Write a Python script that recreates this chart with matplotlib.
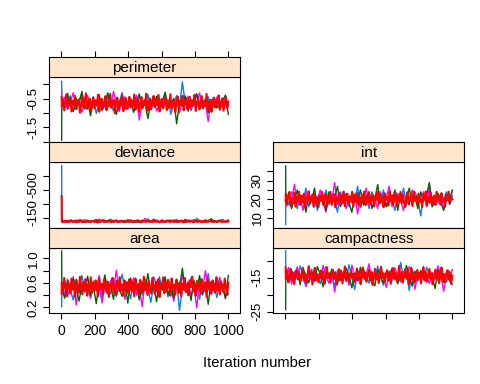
import numpy as np
import matplotlib.pyplot as plt
from matplotlib.transforms import ScaledTranslation

plt.rcParams['font.family'] = ['Liberation Sans', 'DejaVu Sans']
plt.rcParams['font.size'] = 10.6

# chain colours (lattice superpose.line)
chain_colors = ["#0080ff", "#ff00ff", "#006400", "#ff0000"]
chain_widths = [1.0, 1.0, 1.0, 1.5]
strip_color = "#ffe5cc"

perimeter_1 = [0.1, -0.5, -0.8, -0.62, -0.41, -0.95, -0.7, -0.55, -0.33, -0.88, -0.6, -0.74, -0.45, -1.02, -0.66, -0.52, -0.81, -0.38, -0.7, -0.93, -0.57, -0.64, -0.29, -0.85, -0.72, -0.5, -0.99, -0.61, -0.43, -0.77, -0.68, -0.36, -0.9, -0.58, -0.71, -0.47, -0.83, -0.65, -0.54, -1.05, -0.62, -0.4, -0.79, 0.08, -0.69, -0.56, -0.92, -0.63, -0.35, -0.8, -0.6, -0.74, -0.44, -0.97, -0.67, -0.52, -0.86, -0.59, -0.42, -0.75]
perimeter_2 = [-0.2, -0.7, -0.45, -0.88, -0.6, -0.3, -0.76, -0.55, -0.97, -0.64, -0.4, -0.82, -0.58, -0.7, -0.36, -0.9, -0.62, -0.5, -0.78, -0.25, -0.68, -0.95, -0.57, -0.44, -0.86, -0.6, -0.72, -0.39, -1.25, -0.66, -0.53, -0.81, -0.61, -0.47, -0.93, -0.7, -0.58, -0.35, -0.84, -0.63, -0.75, -0.49, -1.0, -0.6, -0.71, -0.42, -0.89, -0.56, -0.67, -0.3, -0.8, -0.62, -1.3, -0.54, -0.73, -0.45, -0.91, -0.65, -0.5, -0.78]
perimeter_3 = [-1.95, -0.55, -0.8, -0.32, -0.7, -0.95, -0.5, -0.68, -0.25, -0.84, -0.61, -1.1, -0.58, -0.73, -0.4, -0.92, -0.66, -0.3, -0.79, -0.56, -1.05, -0.63, -0.45, -0.87, -0.7, -0.52, -0.96, -0.6, -0.34, -0.82, -0.67, -1.2, -0.57, -0.74, -0.43, -0.9, -0.62, -0.28, -0.85, -0.69, -0.5, -1.38, -0.64, -0.76, -0.41, -0.94, -0.6, -0.72, -0.33, -0.88, -0.65, -0.53, -1.0, -0.61, -0.47, -0.83, -0.7, -0.56, -0.38, -1.05]
perimeter_4 = [-0.45, -0.78, -0.52, -0.91, -0.6, -0.35, -0.83, -0.66, -0.48, -0.95, -0.57, -0.73, -0.41, -0.87, -0.62, -0.55, -0.99, -0.69, -0.43, -0.8,
               -0.59, -0.32, -0.86, -0.64, -0.5, -0.92, -0.71, -0.46, -0.84, -0.56, -0.75, -0.37, -0.96, -0.63, -0.51, -0.85, -0.68, -0.42, -0.9, -0.61,
               -0.77, -0.34, -0.82, -0.65, -0.54, -1.01, -0.67, -0.47, -0.88, -0.6, -0.74, -0.39, -0.94, -0.62, -0.49, -0.86, -0.7, -0.44, -0.81, -0.58,
               -0.76, -0.36, -0.89, -0.63, -0.53, -0.97, -0.66, -0.45, -0.83, -0.59, -0.72, -0.33, -0.92, -0.64, -0.5, -0.87, -0.69, -0.41, -0.8, -0.57,
               -0.74, -0.38, -0.95, -0.61, -0.52, -0.84, -0.68, -0.46, -0.9, -0.6, -0.78, -0.35, -0.85, -0.65, -0.55, -0.98, -0.67, -0.43, -0.82, -0.58,
               -0.73, -0.4, -0.91, -0.62, -0.48, -0.86, -0.71, -0.44, -0.79, -0.56, -0.75, -0.37, -0.93, -0.64, -0.51, -0.88, -0.66, -0.42, -0.84, -0.6,
               -0.77, -0.34, -0.9, -0.63, -0.54, -0.96, -0.69, -0.47, -0.81, -0.59, -0.72, -0.39, -0.87, -0.65, -0.5, -0.92, -0.68, -0.45, -0.83, -0.61]

deviance_1 = [-808, -95, -110, -88, -120, -102, -92, -115, -98, -125, -90, -105, -112, -86, -100, -118, -94, -108, -130, -96, -104, -89, -116, -101, -93, -122, -99, -87, -110, -97, -106, -135, -91, -103, -114, -95, -100, -88, -119, -107, -92, -126, -98, -111, -90, -104, -117, -96, -140, -101, -93, -109, -99, -121, -94, -105, -113, -128, -97, -102]
deviance_2 = [-150, -100, -90, -113, -97, -106, -121, -92, -104, -88, -116, -99, -109, -95, -132, -101, -91, -110, -98, -118, -93, -107, -100, -87, -123, -96, -105, -114, -90, -102, -138, -98, -108, -94, -119, -100, -89, -112, -97, -106, -120, -93, -101, -115, -92, -108, -99, -127, -95, -103, -111, -90, -118, -98, -105, -93, -114, -100, -96, -107]
deviance_3 = [-200, -98, -107, -91, -115, -100, -94, -120, -103, -89, -110, -97, -105, -125, -93, -101, -117, -95, -108, -90, -113, -99, -104, -88, -121, -96, -106, -102, -92, -116, -98, -109, -94, -130, -100, -91, -112, -97, -105, -119, -93, -103, -110, -95, -128, -99, -107, -90, -114, -101, -94, -122, -98, -136, -104, -92, -111, -100, -96, -118]
deviance_4 = [-423, -100, -93, -108, -97, -112, -90, -104, -99, -115, -94, -106, -101, -89, -110, -96, -103, -118, -92, -107,
              -100, -95, -113, -98, -105, -91, -109, -102, -94, -116, -99, -88, -111, -97, -104, -120, -93, -106, -100, -95,
              -114, -101, -90, -108, -98, -103, -117, -96, -105, -92, -110, -99, -94, -112, -100, -97, -107, -93, -115, -101,
              -91, -109, -96, -104, -119, -95, -102, -89, -111, -98, -106, -93, -114, -100, -97, -108, -92, -116, -103, -95,
              -110, -99, -90, -105, -118, -96, -101, -94, -112, -98, -107, -91, -109, -102, -95, -115, -100, -93, -106, -97,
              -113, -99, -89, -108, -103, -96, -117, -94, -105, -100, -92, -111, -98, -104, -95, -114, -101, -90, -107, -97,
              -110, -94, -103, -99, -116, -96, -106, -92, -109, -100, -95, -113, -98, -104, -91, -108, -102, -96, -112, -99]

area_1 = [0.21, 0.55, 0.4, 0.66, 0.48, 0.32, 0.6, 0.5, 0.72, 0.44, 0.58, 0.36, 0.63, 0.47, 0.54, 0.3, 0.69, 0.52, 0.42, 0.61, 0.38, 0.56, 0.74, 0.46, 0.53, 0.34, 0.65, 0.49, 0.59, 0.4, 0.67, 0.51, 0.28, 0.57, 0.45, 0.7, 0.5, 0.62, 0.37, 0.55, 0.43, 0.64, 0.15, 0.52, 0.6, 0.39, 0.68, 0.48, 0.57, 0.33, 0.63, 0.5, 0.75, 0.44, 0.58, 0.36, 0.66, 0.49, 0.55, 0.41]
area_2 = [0.6, 0.45, 0.62, 0.38, 0.53, 0.7, 0.24, 0.57, 0.44, 0.66, 0.5, 0.35, 0.6, 0.48, 0.72, 0.27, 0.55, 0.42, 0.64, 0.5, 0.8, 0.46, 0.58, 0.33, 0.61, 0.49, 0.68, 0.4, 0.54, 0.21, 0.63, 0.51, 0.45, 0.7, 0.56, 0.37, 0.6, 0.47, 0.66, 0.52, 0.3, 0.59, 0.43, 0.73, 0.5, 0.62, 0.39, 0.55, 0.19, 0.65, 0.48, 0.8, 0.53, 0.41, 0.6, 0.46, 0.69, 0.5, 0.36, 0.57]
area_3 = [1.12, 0.5, 0.35, 0.6, 0.44, 0.67, 0.52, 0.3, 0.58, 0.47, 0.71, 0.4, 0.55, 0.26, 0.62, 0.49, 0.73, 0.43, 0.56, 0.33, 0.64, 0.5, 0.38, 0.6, 0.27, 0.68, 0.46, 0.54, 0.32, 0.61, 0.5, 0.75, 0.42, 0.57, 0.29, 0.63, 0.48, 0.7, 0.41, 0.55, 0.35, 0.66, 0.52, 0.84, 0.45, 0.59, 0.31, 0.64, 0.49, 0.72, 0.4, 0.56, 0.25, 0.62, 0.47, 0.69, 0.43, 0.58, 0.34, 0.72]
area_4 = [0.42, 0.6, 0.46, 0.68, 0.51, 0.38, 0.63, 0.54, 0.43, 0.67, 0.49, 0.58, 0.37, 0.65, 0.52, 0.44, 0.7, 0.56, 0.41, 0.61,
          0.48, 0.66, 0.39, 0.57, 0.5, 0.69, 0.44, 0.6, 0.47, 0.64, 0.53, 0.38, 0.67, 0.5, 0.58, 0.42, 0.65, 0.55, 0.45, 0.62,
          0.37, 0.59, 0.51, 0.68, 0.44, 0.56, 0.4, 0.63, 0.52, 0.69, 0.47, 0.57, 0.39, 0.64, 0.5, 0.61, 0.43, 0.66, 0.53, 0.46,
          0.6, 0.38, 0.67, 0.49, 0.58, 0.41, 0.65, 0.54, 0.45, 0.7, 0.48, 0.59, 0.4, 0.63, 0.51, 0.44, 0.68, 0.55, 0.42, 0.62,
          0.47, 0.66, 0.37, 0.58, 0.52, 0.69, 0.43, 0.6, 0.46, 0.64, 0.54, 0.39, 0.67, 0.5, 0.57, 0.41, 0.65, 0.56, 0.44, 0.61,
          0.38, 0.59, 0.49, 0.68, 0.45, 0.57, 0.4, 0.64, 0.53, 0.7, 0.46, 0.56, 0.39, 0.63, 0.51, 0.6, 0.42, 0.66, 0.52, 0.47,
          0.61, 0.37, 0.66, 0.5, 0.59, 0.43, 0.64, 0.55, 0.44, 0.69, 0.48, 0.58, 0.41, 0.62, 0.52, 0.45, 0.67, 0.54, 0.4, 0.6]

int_1 = [6.4, 21, 17, 24, 19, 15, 22, 18, 26, 16, 20, 23, 14, 21, 19, 25, 17, 22, 20, 13, 24, 18, 21, 16, 23, 19, 27, 17, 20, 22, 15, 24, 19, 21, 18, 25, 16, 22, 20, 14, 23, 19, 26, 17, 21, 18, 24, 20, 11, 22, 19, 25, 16, 21, 23, 18, 20, 24, 17, 22]
int_2 = [20, 16, 23, 19, 28, 17, 21, 14, 24, 19, 22, 16, 20, 25, 18, 13, 22, 19, 29, 17, 21, 24, 15, 20, 18, 23, 12, 21, 19, 26, 17, 22, 20, 15, 24, 18, 21, 27, 16, 20, 23, 19, 14, 22, 18, 25, 20, 17, 21, 24, 16, 28, 19, 22, 18, 23, 15, 21, 20, 24]
int_3 = [38, 18, 22, 15, 20, 25, 17, 21, 13, 23, 19, 26, 16, 20, 22, 14, 24, 18, 21, 27, 16, 20, 23, 18, 13, 22, 19, 25, 17, 21, 24, 15, 20, 28, 18, 22, 16, 21, 19, 25, 14, 23, 18, 20, 26, 17, 21, 15, 24, 19, 22, 29, 16, 20, 23, 18, 14, 21, 19, 25]
int_4 = [19, 23, 17, 22, 24, 16.5, 20.5, 18, 23.5, 16, 21.5, 19, 24, 17, 22, 18.5, 23, 15.5, 21, 19.5,
         24.3, 17.5, 20, 22.5, 16, 23, 18, 21, 15.8, 22, 19, 24, 17, 20.5, 23, 16.5, 21.5, 18.5, 24, 17,
         20, 22.8, 15.6, 21, 19, 23.5, 17.2, 22, 18, 24.2, 16.2, 20.5, 23, 17.8, 21.5, 19.2, 24, 16, 22.2, 18.6,
         23.4, 17, 20.8, 15.9, 22.6, 19.4, 24.1, 16.8, 21.2, 18.2, 23.8, 17.4, 20.2, 22.4, 16.1, 21.8, 19.6, 24, 17.6, 22.9,
         18.4, 20.6, 15.7, 23.2, 19.8, 21.4, 16.6, 24.2, 18.8, 22.1, 17.1, 20.3, 23.6, 16.4, 21.7, 19.1, 24, 17.9, 22.7, 18.1,
         15.8, 21.1, 23.9, 17.3, 20.7, 22.3, 16.3, 24.1, 19.3, 21.6, 17.7, 23.1, 18.7, 20.1, 15.9, 22.5, 19.9, 24.2, 16.7, 21.3,
         18.3, 23.7, 17.5, 20.9, 22, 16.9, 24, 19.7, 21.9, 17.2, 23.3, 18.9, 20.4, 16, 22.8, 19.5, 24.1, 17.8, 21, 20]

campactness_1 = [-7.1, -14, -12, -16.5, -13.2, -15.4, -11.5, -14.8, -17.5, -13, -15.8, -12.3, -14.5, -16.8, -13.6, -11.8, -15.2, -14, -17.8, -12.8, -15, -13.4, -16.2, -11.2, -14.6, -18.5, -13.1, -15.6, -12.5, -14.2, -16.6, -13.8, -15.3, -11.6, -14.9, -17.2, -13.3, -15.7, -12.1, -14.4, -16.4, -10.5, -15.1, -13.7, -18.8, -12.6, -14.7, -16, -13.2, -15.5, -11.9, -14.3, -17, -13.5, -15.9, -12.4, -14.8, -16.3, -13, -15.2]
campactness_2 = [-13, -15.5, -12.2, -16.9, -14.1, -11.8, -15.8, -13.3, -17.6, -14.6, -12.5, -16.2, -13.9, -15.1, -11.4, -14.8, -16.6, -13.1, -19.2, -14.3, -12.7, -15.6, -13.6, -17.3, -11.3, -14.9, -16, -12.9, -15.3, -14, -10.9, -16.8, -13.4, -15, -12.4, -14.7, -17.9, -13.8, -15.7, -12.1, -14.5, -16.3, -13.2, -15.2, -11.7, -14.2, -18.4, -13.7, -15.9, -12.8, -14.6, -16.7, -13.5, -15.4, -11.5, -14.4, -19, -13.9, -15.6, -12.6]
campactness_3 = [-24.4, -14.5, -16.3, -12.8, -15, -13.5, -17.1, -12, -14.8, -16.5, -13.3, -15.6, -11.7, -14.2, -17.7, -13.6, -15.2, -12.5, -14.9, -16.9, -13, -15.5, -12.2, -14.4, -18, -13.7, -15.8, -11.9, -14.6, -16.1, -13.2, -15.3, -17.4, -12.7, -14.7, -16.6, -13.4, -15.1, -12.3, -14, -16.8, -13.8, -15.4, -11.4, -14.3, -17.5, -13.1, -15.7, -12.9, -14.5, -16.2, -13.6, -15, -18.2, -12.6, -14.8, -16.4, -13.3, -15.9, -17]
campactness_4 = [-12, -15.2, -13.1, -16.4, -14, -12.4, -15.7, -13.6, -16.9, -14.4, -12.8, -15.5, -13.3, -16.1, -14.7, -12.2, -15.9, -13.8, -16.6, -14.2,
                 -11.6, -15.3, -13.5, -17, -14.6, -12.1, -15.8, -13.9, -16.3, -14.1, -12.9, -15.6, -13.2, -16.8, -14.5, -11.9, -15.1, -13.7, -16.5, -14.3,
                 -12.7, -15.4, -13.4, -17.1, -14.8, -12.5, -15.9, -13, -16.7, -14.1, -11.7, -15.6, -13.6, -16, -14.4, -12.9, -15.3, -13.8, -16.4, -14.2,
                 -12.3, -15.7, -13.1, -16.9, -14.6, -12, -15.2, -13.5, -16.2, -14, -12.6, -15.8, -13.3, -17.2, -14.7, -12.4, -15.5, -13.9, -16.6, -14.3,
                 -11.8, -15, -13.7, -16.3, -14.5, -12.8, -15.9, -13.2, -16.8, -14.1, -12.2, -15.4, -13.6, -16.1, -14.8, -11.5, -15.7, -13.4, -16.5, -14.2,
                 -12.5, -15.3, -13, -17, -14.4, -12.1, -15.6, -13.8, -16.4, -14.6, -12.7, -15.1, -13.5, -16.7, -14, -11.9, -15.8, -13.3, -16.2, -14.3,
                 -12.4, -15.5, -13.7, -16.9, -14.7, -12.6, -15.2, -13.1, -16.6, -14.5, -12, -15.9, -13.9, -16.3, -14.2, -12.8, -15.4, -13.6, -16.8, -14.4]

x_ticks = [0, 200, 400, 600, 800, 1000]

# name: (chains, col, row, ylim, yticks, yticklabels)
panels = {
    "perimeter": ([perimeter_1, perimeter_2, perimeter_3, perimeter_4], 0, 0,
                  (-2.02, 0.26), [0, -0.5, -1.0, -1.5, -2.0], ["", "-0.5", "", "-1.5", ""]),
    "deviance": ([deviance_1, deviance_2, deviance_3, deviance_4], 0, 1,
                 (-22, -850), [-150, -325, -500, -675], ["-150", "", "-500", ""]),
    "area": ([area_1, area_2, area_3, area_4], 0, 2,
             (0.102, 1.173), [0.2, 0.4, 0.6, 0.8, 1.0], ["0.2", "", "0.6", "", "1.0"]),
    "int": ([int_1, int_2, int_3, int_4], 1, 1,
            (4.65, 40), [10, 15, 20, 25, 30, 35], ["10", "", "20", "", "30", ""]),
    "campactness": ([campactness_1, campactness_2, campactness_3, campactness_4], 1, 2,
                    (-25.5, -6.2), [-10, -15, -20, -25], ["", "-15", "", "-25"]),
}

W, H = 480, 384
fig = plt.figure(figsize=(W / 100, H / 100), dpi=100)


def box(x0, y0, x1, y1):
    return [x0 / W, 1 - y1 / H, (x1 - x0) / W, (y1 - y0) / H]


col_x = [(49.3, 240.0), (273.3, 464.0)]
row_top = [56.7, 142.2, 227.8]
strip_h = 20.0
row_h = 85.5
xlim = (-73, 1070)

for name, (chains, col, row, ylim, yt, ytl) in panels.items():
    x0, x1 = col_x[col]
    top = row_top[row]
    ax = fig.add_axes(box(x0, top + strip_h, x1, top + row_h))
    for vals, c, w in zip(chains, chain_colors, chain_widths):
        it = np.r_[1, np.linspace(2, 1000, len(vals) - 1)]
        ax.plot(it, vals, color=c, lw=w)
    ax.set_xlim(xlim)
    ax.set_ylim(ylim)
    ax.set_yticks(yt)
    ax.set_yticklabels(ytl, rotation=90, va="center", fontsize=9.6)
    ax.tick_params(axis="y", direction="out", length=4.5, width=0.8, pad=2.5)
    if name == "deviance":
        for lab in ax.get_yticklabels():
            lab.set_transform(lab.get_transform() + ScaledTranslation(0, 0.05, fig.dpi_scale_trans))
    if row == 2:
        ax.set_xticks(x_ticks)
        ax.tick_params(axis="x", direction="out", length=4.5, width=0.8, pad=3, labelsize=10)
        if col == 1:
            ax.set_xticklabels([])
    else:
        ax.set_xticks([])
    for s in ax.spines.values():
        s.set_linewidth(0.8)

    sax = fig.add_axes(box(x0, top, x1, top + strip_h))
    sax.set_facecolor(strip_color)
    sax.set_xlim(xlim)
    sax.set_yticks([])
    if row == 0:
        sax.set_xticks(x_ticks)
        sax.xaxis.tick_top()
        sax.tick_params(axis="x", direction="out", length=4.5, width=0.8, labeltop=False)
    else:
        sax.set_xticks([])
    for s in sax.spines.values():
        s.set_linewidth(0.8)
    sax.text(0.5, 0.45, name, transform=sax.transAxes, ha="center", va="center", fontsize=11)

fig.text(256.7 / W, 1 - 363.3 / H, "Iteration number", ha="center", va="center")

fig.savefig("out.png", dpi=100)
